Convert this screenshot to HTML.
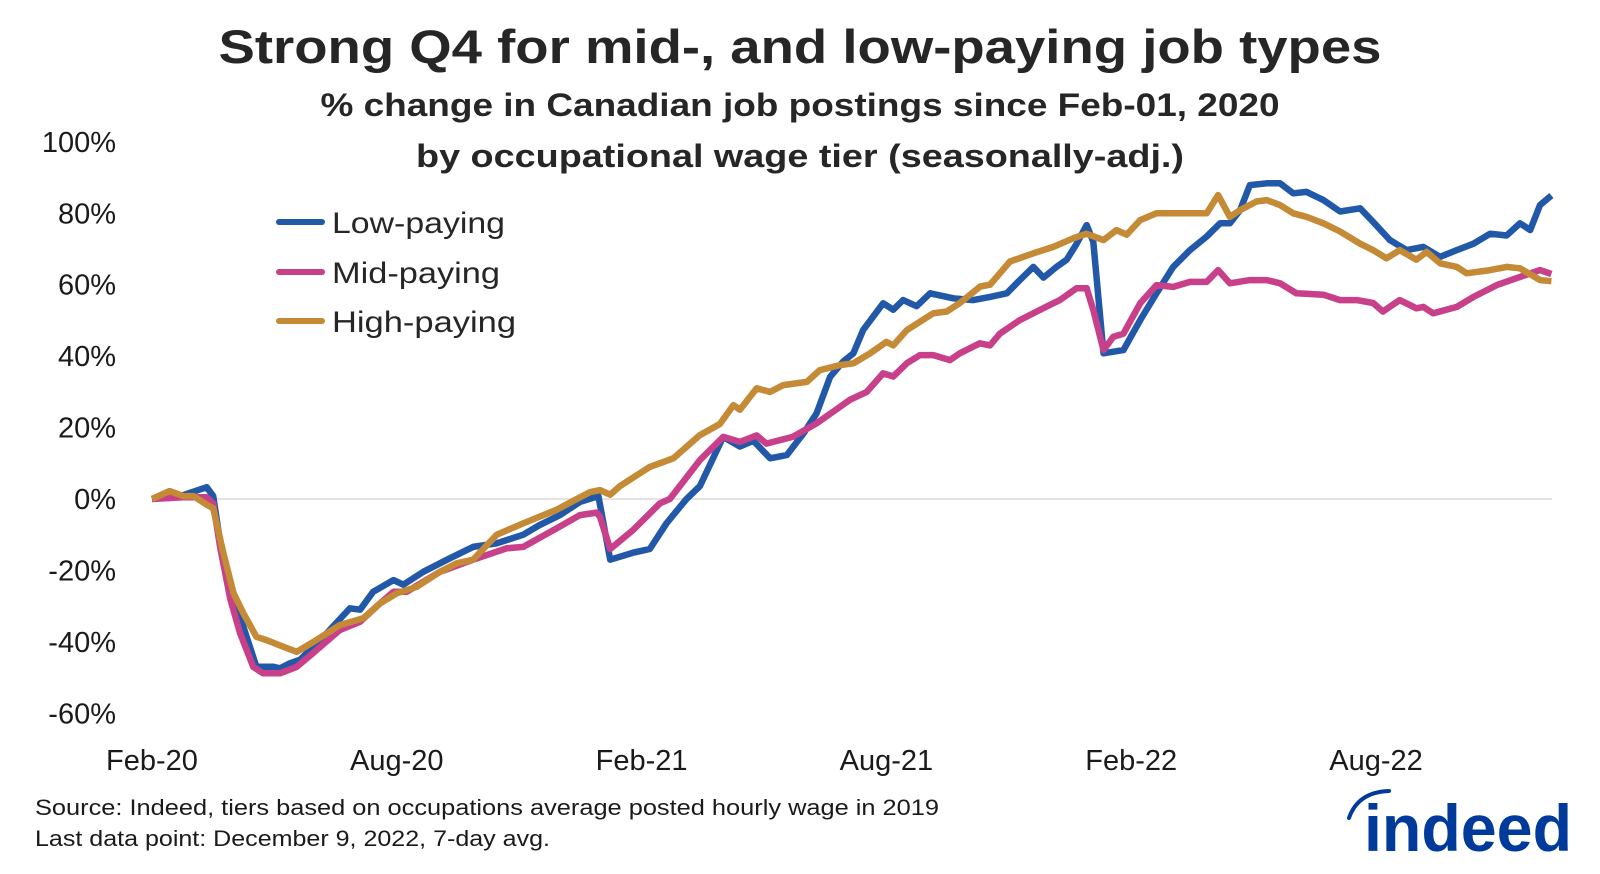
<!DOCTYPE html>
<html><head><meta charset="utf-8"><style>
html,body{margin:0;padding:0;background:#fff}
svg{display:block;font-family:"Liberation Sans",sans-serif}
</style></head><body>
<svg id="chart" width="1600" height="874" viewBox="0 0 1600 874" xmlns="http://www.w3.org/2000/svg">
<text x="800" y="63" text-anchor="middle" font-size="47" font-weight="bold" fill="#262626" textLength="1163" lengthAdjust="spacingAndGlyphs">Strong Q4 for mid-, and low-paying job types</text>
<text x="800" y="116" text-anchor="middle" font-size="32" font-weight="bold" fill="#262626" textLength="959" lengthAdjust="spacingAndGlyphs">% change in Canadian job postings since Feb-01, 2020</text>
<text x="800" y="167" text-anchor="middle" font-size="32" font-weight="bold" fill="#262626" textLength="768" lengthAdjust="spacingAndGlyphs">by occupational wage tier (seasonally-adj.)</text>
<g id="yaxis"></g>
<g id="xaxis"></g>
<line x1="152" x2="1552" y1="499" y2="499" stroke="#e3e3e3" stroke-width="2"/>
<g id="series"></g>
<g>
<g><line x1="279" x2="322" y1="222" y2="222" stroke="#2158a8" stroke-width="6" stroke-linecap="round"/><text x="332" y="233" font-size="30" fill="#262626" textLength="173" lengthAdjust="spacingAndGlyphs">Low-paying</text></g>
<g><line x1="279" x2="322" y1="272" y2="272" stroke="#c9408a" stroke-width="6" stroke-linecap="round"/><text x="332" y="283" font-size="30" fill="#262626" textLength="168" lengthAdjust="spacingAndGlyphs">Mid-paying</text></g>
<g><line x1="279" x2="322" y1="321" y2="321" stroke="#c48a35" stroke-width="6" stroke-linecap="round"/><text x="332" y="332" font-size="30" fill="#262626" textLength="184" lengthAdjust="spacingAndGlyphs">High-paying</text></g>
</g>
<text x="35" y="815" font-size="22" fill="#1a1a1a" textLength="904" lengthAdjust="spacingAndGlyphs">Source: Indeed, tiers based on occupations average posted hourly wage in 2019</text>
<text x="35" y="846" font-size="22" fill="#1a1a1a" textLength="515" lengthAdjust="spacingAndGlyphs">Last data point: December 9, 2022, 7-day avg.</text>
<g>
<path d="M1349 818 Q1358 792 1389 791" fill="none" stroke="#003a9b" stroke-width="4" stroke-linecap="round"/>
<text x="1364" y="851" font-size="66" font-weight="bold" fill="#003a9b" textLength="208" lengthAdjust="spacingAndGlyphs">indeed</text>
</g>
</svg>
<script>
const yTicks = [100, 80, 60, 40, 20, 0, -20, -40, -60];
const xTickMonths = [0, 6, 12, 18, 24, 30];
const xTickLabels = ["Feb-20", "Aug-20", "Feb-21", "Aug-21", "Feb-22", "Aug-22"];

const lowMonths = [0,0.77,1.34,1.5,1.67,1.83,2.16,2.56,2.97,3.14,3.38,3.63,4.2,4.85,5.1,5.42,5.92,6.16,6.65,7.3,7.87,8.45,9.1,9.5,10.0,10.49,10.94,11.23,11.8,12.2,12.61,13.1,13.43,14.0,14.41,14.74,15.15,15.56,15.97,16.29,16.62,16.94,17.19,17.43,17.92,18.17,18.41,18.74,19.07,19.64,20.13,20.54,20.95,21.27,21.6,21.85,22.17,22.42,22.66,22.91,23.07,23.32,23.81,24.22,24.62,25.03,25.44,25.85,26.18,26.42,26.67,26.91,27.32,27.65,27.97,28.3,28.71,29.12,29.61,29.93,30.34,30.75,31.16,31.57,31.98,32.39,32.8,33.2,33.53,33.78,34.02,34.3];
const lowValues = [0,1.1,3.3,0.8,-12,-22.7,-33,-47,-47,-47.4,-46,-45,-38.6,-30.6,-31,-26,-22.7,-24,-20.4,-16.6,-13.4,-12.4,-10,-7.3,-4.5,-0.8,0.8,-17,-15,-14,-6.8,0,3.6,17.4,14.7,16.3,11.4,12.3,18.4,24,34.2,38.5,40.8,47.3,54.8,53,55.7,54,57.6,56.2,55.7,56.6,57.6,61.3,65,62,65,67,71.4,76.7,72,40.8,41.7,50.1,57.6,65,69.7,73.5,77.2,77.2,80.9,87.9,88.4,88.4,85.6,86,83.7,80.5,81.4,77.6,72.5,69.7,70.6,67.8,69.7,71.5,74.3,73.8,77.2,75.3,82.3,85];

const midMonths = [0,0.77,1.34,1.5,1.67,1.92,2.16,2.48,2.72,3.14,3.55,3.96,4.6,5.1,5.59,5.92,6.24,7.06,7.87,8.69,9.1,9.92,10.49,10.9,10.98,11.23,11.8,12.45,12.69,13.43,14.0,14.41,14.82,15.06,15.7,16.29,16.7,17.11,17.52,17.92,18.17,18.5,18.82,19.15,19.56,19.8,20.29,20.54,20.78,21.27,21.93,22.25,22.66,22.91,23.07,23.32,23.56,23.81,24.22,24.62,25.03,25.44,25.85,26.13,26.42,26.91,27.32,27.65,28.05,28.71,29.12,29.53,29.93,30.17,30.58,30.99,31.16,31.4,31.98,32.39,32.96,33.53,34.02,34.3];
const midValues = [0,0.5,0.5,-1.3,-13.4,-28,-37.6,-47,-48.8,-48.8,-47,-43,-36.7,-34.4,-29.2,-26,-26,-20.4,-17,-13.8,-13.4,-8.2,-4.5,-3.8,-5,-14,-8.6,-1.2,0,10.9,17.4,16,17.8,15.5,17.4,21.2,24.5,27.8,30,35.2,34.3,38,40.3,40.3,38.9,40.8,43.6,43,46.3,50.1,53.9,55.7,59,59,52.9,41.7,45.4,46.3,54.8,59.9,59.4,60.8,60.8,64.1,60.4,61.3,61.3,60.4,57.6,57.2,55.7,55.7,54.9,52.5,55.7,53.4,53.8,52,53.8,56.6,59.9,62.2,64.1,63];

const highMonths = [0,0.43,0.77,1.02,1.34,1.5,1.75,2.0,2.24,2.56,2.81,3.22,3.55,3.96,4.6,5.18,5.59,6.0,6.49,7.06,7.47,7.87,8.45,9.1,9.92,10.33,10.73,10.98,11.23,11.47,12.2,12.78,13.43,13.92,14.25,14.41,14.82,15.15,15.47,16.05,16.37,16.86,17.19,17.6,18.0,18.17,18.5,19.15,19.48,19.8,20.3,20.54,21.03,21.6,22.09,22.58,22.9,23.32,23.64,23.89,24.22,24.62,25.03,25.44,25.85,26.13,26.42,26.67,27.07,27.32,27.65,27.97,28.3,28.71,29.12,29.61,29.93,30.26,30.58,30.99,31.24,31.57,31.98,32.22,32.8,33.2,33.53,34.02,34.3];
const highValues = [0,2.2,0.8,0.8,-1.6,-2.6,-15.2,-26.4,-32,-38.6,-39.5,-41.4,-42.8,-40,-35.3,-33.4,-29.2,-26.4,-24.6,-20.4,-18,-17,-10,-6.8,-3,-0.5,1.9,2.5,1.2,3.6,9,11.4,17.9,21,26.3,25,31,30,31.9,32.8,36.1,37.5,38,40.8,44,43,47.3,52,52.5,54.9,59.5,60,66.5,68.8,70.6,73,74.3,72.5,75.3,74,78.1,80,80,80,80,85.1,79,80.9,83.3,83.7,82.3,80,79,77.2,74.9,71.5,69.7,67.4,69.7,67,69.2,66,65,63.2,64.1,65,64.6,61.3,61];

const X0 = 152, PX_PER_MONTH = 40.8, Y0 = 499, PX_PER_PCT = 3.571;
function xScale(m){ return X0 + m * PX_PER_MONTH; }
function yScale(v){ return Y0 - v * PX_PER_PCT; }

const NS = "http://www.w3.org/2000/svg";
const yAxis = document.getElementById('yaxis');
yTicks.forEach(function(t){
  const el = document.createElementNS(NS, 'text');
  
  
  el.setAttribute('x', 116);
  el.setAttribute('y', yScale(t) + 10);
  el.setAttribute('text-anchor', 'end');
  el.setAttribute('font-size', '29');
  el.setAttribute('fill', '#1a1a1a');
  el.textContent = t + '%';
  yAxis.appendChild(el);
});
const xAxis = document.getElementById('xaxis');
xTickMonths.forEach(function(m, i){
  const el = document.createElementNS(NS, 'text');
  
  
  el.setAttribute('x', xScale(m));
  el.setAttribute('y', 770);
  el.setAttribute('text-anchor', 'middle');
  el.setAttribute('font-size', '29');
  el.setAttribute('fill', '#1a1a1a');
  el.textContent = xTickLabels[i];
  xAxis.appendChild(el);
});
const seriesG = document.getElementById('series');
function drawLine(months, values, color, name){
  const p = document.createElementNS(NS, 'path');
  
  
  let d = '';
  months.forEach(function(m, i){ d += (i ? 'L' : 'M') + xScale(m).toFixed(1) + ' ' + yScale(values[i]).toFixed(1); });
  p.setAttribute('d', d);
  p.setAttribute('fill', 'none');
  p.setAttribute('stroke', color);
  p.setAttribute('stroke-width', '6.5');
  p.setAttribute('stroke-linejoin', 'round');
  seriesG.appendChild(p);
}
drawLine(lowMonths, lowValues, '#2158a8', 'low-paying-line');
drawLine(midMonths, midValues, '#c9408a', 'mid-paying-line');
drawLine(highMonths, highValues, '#c48a35', 'high-paying-line');
</script>
</body></html>
